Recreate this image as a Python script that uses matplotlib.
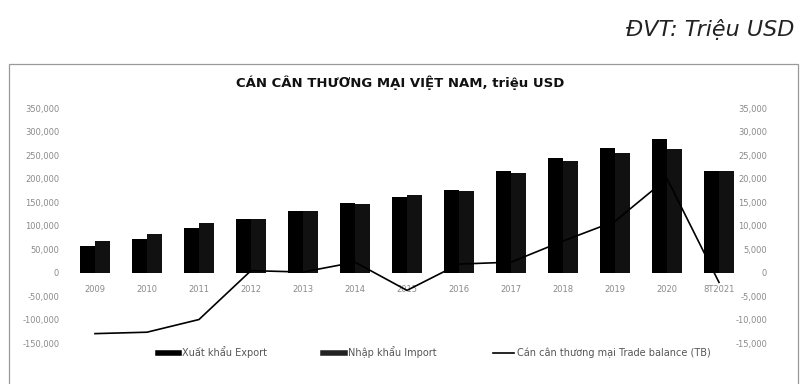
import matplotlib
matplotlib.use('Agg')
import matplotlib.pyplot as plt
from matplotlib.lines import Line2D
from matplotlib.patches import Rectangle
import numpy as np

# data (trieu USD)
years = ['2009', '2010', '2011', '2012', '2013', '2014', '2015', '2016',
         '2017', '2018', '2019', '2020', '8T2021']
export = [56500, 72300, 96400, 115500, 132000, 149600, 162300, 176600,
          216000, 245300, 266600, 285000, 217000]
imports = [69000, 82300, 105700, 114300, 132000, 146800, 166000, 174500,
           213400, 239000, 254700, 263200, 217500]
balance = [-12900, -12600, -9900, 500, 200, 2300, -3700, 1900,
           2300, 6800, 11000, 20100, -2000]

left_ticks = [-150000, -100000, -50000, 0, 50000, 100000, 150000,
              200000, 250000, 300000, 350000]
right_ticks = [-15000, -10000, -5000, 0, 5000, 10000, 15000,
               20000, 25000, 30000, 35000]

tick_col = '#8a8a8a'

fig = plt.figure(figsize=(8.01, 3.84), dpi=100)

# frame round the chart
fig.patches.append(Rectangle((0.011, -0.05), 0.985, 0.883, transform=fig.transFigure,
                             fill=False, edgecolor='#9a9a9a', linewidth=0.9))

fig.text(0.992, 0.922, 'ĐVT: Triệu USD', ha='right', va='center',
         fontsize=16, style='italic', color='#222222')
fig.text(0.5, 0.784, 'CÁN CÂN THƯƠNG MẠI VIỆT NAM, triệu USD', ha='center',
         va='center', fontsize=9.5, fontweight='bold', color='#111111')

ax = fig.add_axes([0.0861, 0.1055, 0.844, 0.612])
x = np.arange(len(years))
w = 0.28
ax.bar(x - w / 2, export, w, color='#000000', zorder=2)
ax.bar(x + w / 2, imports, w, color='#111111', edgecolor='#3c3c3c',
       hatch='::', linewidth=0, zorder=2)
ax.set_xlim(-0.5, len(years) - 0.5)
ax.set_ylim(-150000, 350000)
ax.set_yticks(left_ticks)
ax.set_yticklabels([f'{v:,}' for v in left_ticks])
ax.set_xticks(x)
ax.set_xticklabels(years)
ax.spines['bottom'].set_position(('data', 0))
for s in ax.spines.values():
    s.set_visible(False)
ax.tick_params(axis='y', length=0, pad=7, labelsize=6, labelcolor=tick_col)
ax.tick_params(axis='x', length=0, pad=9, labelsize=6, labelcolor=tick_col)

ax2 = ax.twinx()
ax2.plot(x, balance, color='#000000', linewidth=1.2, zorder=3)
ax2.set_ylim(-15000, 35000)
ax2.set_yticks(right_ticks)
ax2.set_yticklabels([f'{v:,}' for v in right_ticks])
for s in ax2.spines.values():
    s.set_visible(False)
ax2.tick_params(axis='y', length=0, pad=16, labelsize=6, labelcolor=tick_col)
for lab in ax2.get_yticklabels():
    lab.set_ha('right')

handles = [Line2D([], [], color='#000000', linewidth=4),
           Line2D([], [], color='#222222', linewidth=4),
           Line2D([], [], color='#000000', linewidth=1.2)]
labels = ['Xuất khẩu Export', 'Nhập khẩu Import',
          'Cán cân thương mại Trade balance (TB)']
fig.legend(handles, labels, loc='center', bbox_to_anchor=(0.542, 0.083), ncol=3,
           frameon=False, fontsize=7, labelcolor='#555555', handlelength=2.2,
           handletextpad=0.3, columnspacing=5.8)

fig.savefig('out.png', dpi=100)
